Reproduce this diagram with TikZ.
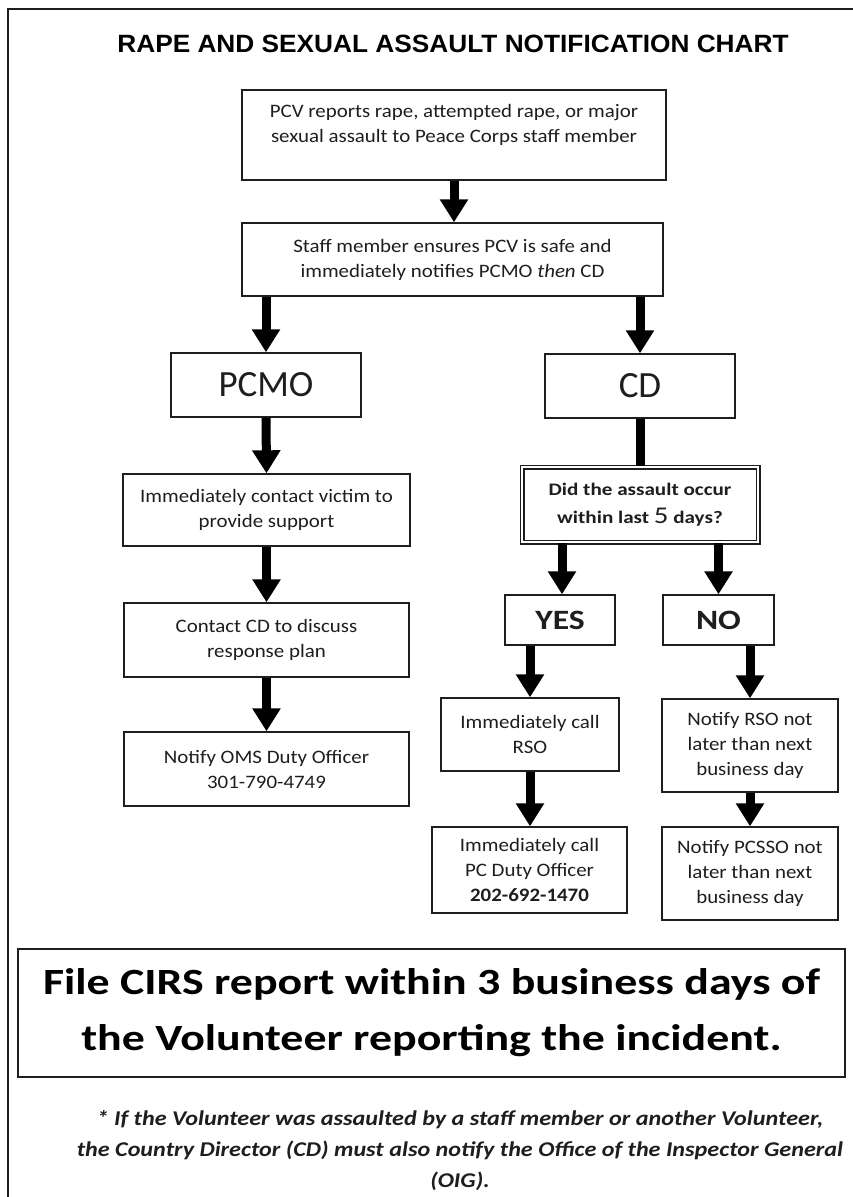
\documentclass[tikz,border=0pt]{standalone}
\usepackage{fontspec}
\setmainfont{Carlito}
\newfontfamily\boxfont[FakeStretch=1.1]{Carlito}
\newfontfamily\widefont[FakeStretch=1.2]{Carlito}
\newfontfamily\footfont[FakeStretch=1.15]{Carlito}
\newfontfamily\bigfont[FakeStretch=1.24]{Carlito}
\newfontfamily\titlefont[FakeStretch=1.05]{Liberation Sans}
\usetikzlibrary{arrows.meta,calc}
\definecolor{ink}{HTML}{1E1E1E}
\begin{document}
\begin{tikzpicture}[x=1pt,y=-1pt]
\tikzset{
  box/.style={draw=ink, line width=1.4pt, align=center, inner sep=0pt, text=ink,
    font=\boxfont\fontsize{19}{25}\selectfont},
  flow/.style={draw=black, line width=9pt, -{Triangle[length=23pt,width=27pt]}},
  bar/.style={draw=black, line width=9pt},
}
\useasboundingbox (0,0) rectangle (853,1197);
\fill[white] (0,0) rectangle (853,1197);
% frame
\draw[line width=1.8pt, ink] (853,9) -- (8,9) -- (8,1197);
% title
\node[font=\titlefont\bfseries\fontsize{25}{28}\selectfont, text=black] (title) at (453,44)
  {RAPE AND SEXUAL ASSAULT NOTIFICATION CHART};
% top boxes
\node[box, minimum width=424pt, minimum height=90pt,
  label={[font=\boxfont\fontsize{19}{25}\selectfont, align=center, text=ink, yshift=10.5pt]center:{PCV reports rape, attempted rape, or major\\sexual assault to Peace Corps staff member}}]
  (b1) at (454,135) {};
\node[box, minimum width=421pt, minimum height=73pt] (b2) at (452.5,259.5)
  {Staff member ensures PCV is safe and\\immediately notifies PCMO \textit{then} CD};
\node[box, minimum width=190pt, minimum height=64pt, font=\fontsize{37}{40}\selectfont] (pcmo) at (266,385) {PCMO};
\node[box, minimum width=190pt, minimum height=64pt, font=\fontsize{37}{40}\selectfont] (cd) at (640,386) {CD};
% PCMO column
\node[box, minimum width=287pt, minimum height=72pt] (pc1) at (266.5,510)
  {Immediately contact victim to\\provide support};
\node[box, minimum width=285pt, minimum height=74pt] (pc2) at (266.5,640)
  {Contact CD to discuss\\response plan};
\node[box, minimum width=285pt, minimum height=74pt] (pc3) at (266.5,769)
  {Notify OMS Duty Officer\\301-790-4749};
% CD column
\node[box, minimum width=236pt, minimum height=75pt, double=white, double distance=2.6pt,
  line width=1.2pt, font=\widefont\bfseries\fontsize{17.6}{28}\selectfont] (dec) at (640,504.5)
  {Did the assault occur\\within last {\mdseries\fontsize{24}{24}\selectfont 5} days?};
\node[box, minimum width=110pt, minimum height=50pt, font=\widefont\bfseries\fontsize{28}{30}\selectfont] (yes) at (560,620) {YES};
\node[box, minimum width=111pt, minimum height=50pt, font=\widefont\bfseries\fontsize{28}{30}\selectfont] (no) at (718.5,620) {NO};
\node[box, minimum width=178pt, minimum height=73pt] (y1) at (530,734.5)
  {Immediately call\\RSO};
\node[box, minimum width=195pt, minimum height=86pt] (y2) at (529.5,870)
  {Immediately call\\PC Duty Officer\\\textbf{202-692-1470}};
\node[box, minimum width=176pt, minimum height=93pt] (n1) at (750,745.5)
  {Notify RSO not\\later than next\\business day};
\node[box, minimum width=176pt, minimum height=93pt] (n2) at (750,873.5)
  {Notify PCSSO not\\later than next\\business day};
% bottom
\node[box, line width=1.6pt, minimum width=827pt, minimum height=128pt,
  font=\bigfont\bfseries\fontsize{37}{56}\selectfont, text=black] (cirs) at (431.5,1013)
  {File CIRS report within 3 business days of\\the Volunteer reporting the incident.};
\node[font=\footfont\bfseries\itshape\fontsize{21}{31}\selectfont, align=center, text=ink, inner sep=0pt] (foot) at (460,1151)
  {* If the Volunteer was assaulted by a staff member or another Volunteer,\\the Country Director (CD) must also notify the Office of the Inspector General\\(OIG).};
% connectors
\draw[flow] (b1.south) -- (b1.south |- b2.north);
\draw[flow] (pcmo.north |- b2.south) -- (pcmo.north);
\draw[flow] (cd.north |- b2.south) -- (cd.north);
\draw[flow] (pcmo.south) -- (pc1.north);
\draw[flow] (pc1.south) -- (pc2.north);
\draw[flow] (pc2.south) -- (pc3.north);
\draw[bar] (cd.south) -- (dec.north);
\draw[flow] ($(yes.north |- dec.south)+(2,0)$) -- ($(yes.north)+(2,0)$);
\draw[flow] (no.north |- dec.south) -- (no.north);
\draw[flow] (y1.north |- yes.south) -- (y1.north);
\draw[flow] (n1.north |- no.south) -- (n1.north);
\draw[flow] (y1.south) -- (y1.south |- y2.north);
\draw[flow] (n1.south) -- (n2.north);
\end{tikzpicture}
\end{document}
